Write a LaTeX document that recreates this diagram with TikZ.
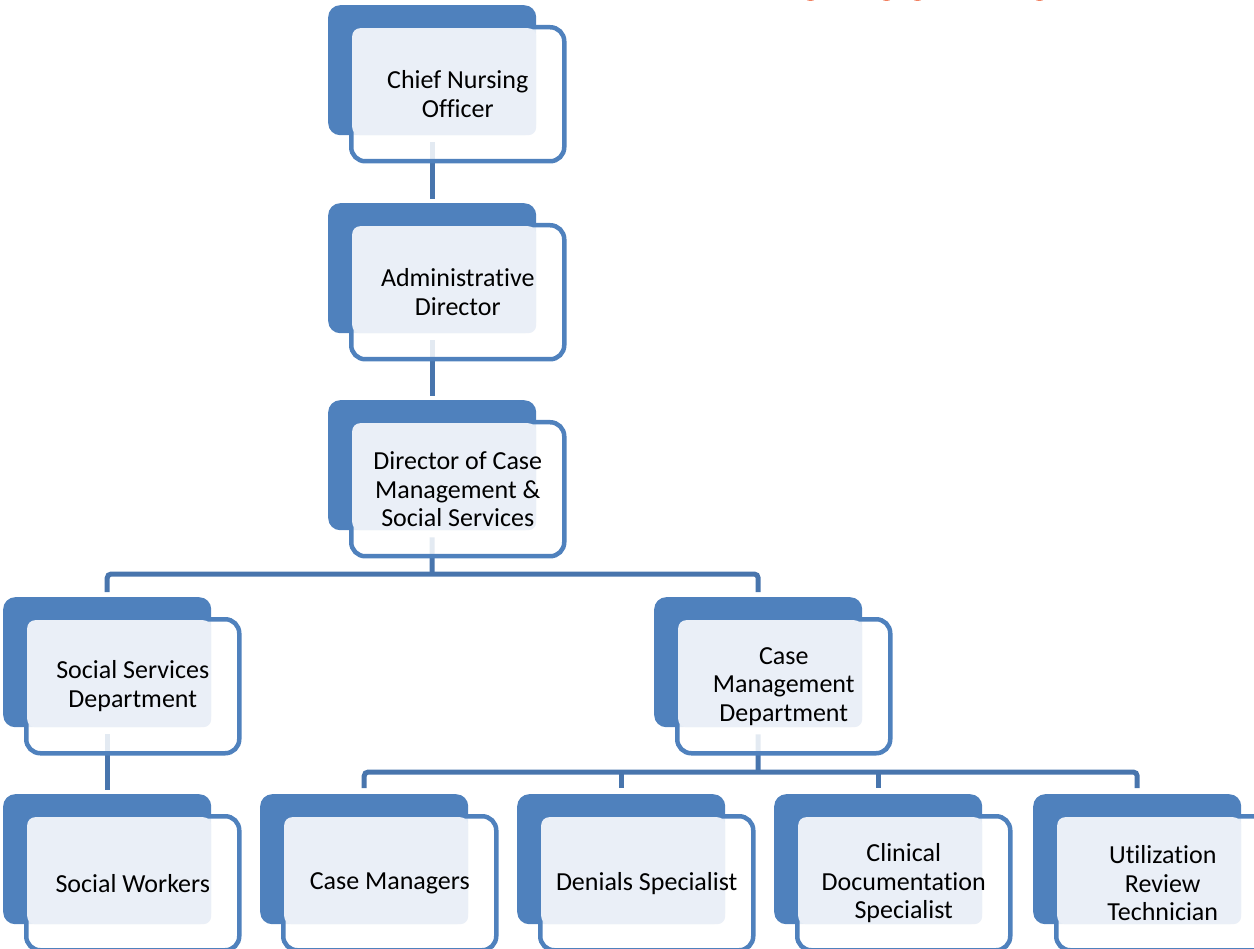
\documentclass[tikz,border=0pt]{standalone}
\usepackage{fontspec}
\setmainfont{Carlito}[Ligatures=NoCommon]
\usetikzlibrary{backgrounds}

\definecolor{unitblue}{RGB}{79,129,189}
\definecolor{linkblue}{RGB}{72,117,173}
\definecolor{paleblue}{RGB}{234,239,247}
\definecolor{titlered}{RGB}{241,128,96}

\tikzset{
  backbox/.style={anchor=north west, fill=unitblue, draw=none, inner sep=0pt,
    minimum width=208pt, minimum height=130pt, rounded corners=12pt},
  framebox/.style={anchor=north west, draw=unitblue, line width=4.5pt, fill=white,
    fill opacity=0.85, inner sep=0pt, minimum width=213pt, minimum height=134pt,
    rounded corners=14pt},
  lightbox/.style={anchor=north west, fill=paleblue, draw=none, inner sep=0pt,
    minimum width=184pt, minimum height=107pt, rounded corners=8pt},
  unittext/.style={align=center, inner sep=0pt, text=black,
    font=\fontsize{26}{28.5}\selectfont},
  link/.style={draw=linkblue, line width=5pt},
}

% one org-chart unit: name, x and y of the back panel's top-left corner, text
\newcommand{\orgunit}[4]{%
  \node[backbox] (#1-b) at (#2,#3) {};
  \node[framebox] (#1-f) at ([shift={(21pt,-20pt)}]#1-b.north west) {};
  \node[lightbox] (#1-l) at ([shift={(24pt,-23pt)}]#1-b.north west) {};
  \node[unittext] (#1) at (#1-f.center) {#4};
}

\begin{document}
\begin{tikzpicture}[x=1pt,y=-1pt]
\useasboundingbox (0,0) rectangle (1254,949);
\clip (0,0) rectangle (1254,949);

% remnants of a heading along the top edge
\foreach \hx in {810.5,886.5,917.5,1039.5}
  \fill[titlered] (\hx,-1) ellipse [x radius=4.5pt, y radius=2pt];

\orgunit{cno}{328}{5}{Chief Nursing\\Officer}
\orgunit{adm}{328}{203}{Administrative\\Director}
\orgunit{dcm}{328}{400}{Director of Case\\Management \&\\Social Services}
\orgunit{ssd}{3}{597}{Social Services\\Department}
\orgunit{cmd}{654}{597}{Case\\Management\\Department}
\orgunit{sw}{3}{794}{Social Workers}
\orgunit{cm}{260}{794}{Case Managers}
\orgunit{ds}{517}{794}{Denials Specialist}
\orgunit{cds}{774}{794}{Clinical\\Documentation\\Specialist}
\orgunit{urt}{1033}{794}{Utilization\\Review\\Technician}

\coordinate (busA) at (432,574);
\coordinate (busB) at (758,772);

\begin{scope}[on background layer]
  \draw[link] ([yshift=-7pt]cno-b.south) -- ([yshift=4pt]adm-b.north);
  \draw[link] ([yshift=-7pt]adm-b.south) -- ([yshift=4pt]dcm-b.north);
  \draw[link] ([yshift=-7pt]dcm-b.south) -- (busA);
  \draw[link, rounded corners=4pt] ([yshift=5pt]ssd-b.north) |- (busA)
    -| ([yshift=5pt]cmd-b.north);
  \draw[link] ([yshift=-7pt]ssd-b.south) -- ([yshift=4pt]sw-b.north);
  \draw[link] ([yshift=-7pt]cmd-b.south) -- (busB);
  \draw[link, rounded corners=4pt] ([yshift=6pt]cm-b.north) |- (busB)
    -| ([yshift=6pt]urt-b.north);
  \draw[link] (ds-b.north |- busB) -- ([yshift=6pt]ds-b.north);
  \draw[link] (cds-b.north |- busB) -- ([yshift=6pt]cds-b.north);
\end{scope}
\end{tikzpicture}
\end{document}
